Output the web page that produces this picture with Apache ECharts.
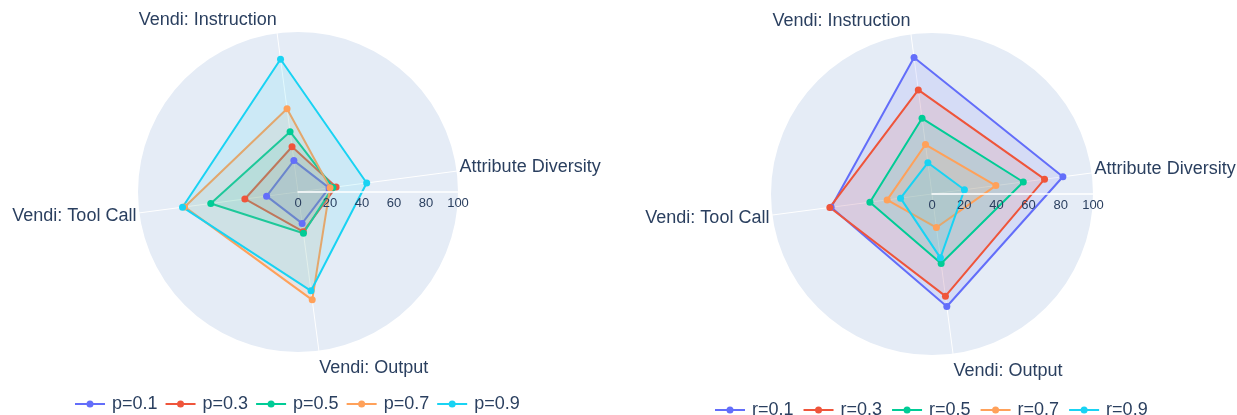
<!DOCTYPE html>
<html>
<head>
<meta charset="utf-8">
<script src="https://cdn.jsdelivr.net/npm/echarts@6/dist/echarts.min.js"></script>
<style>
  html, body { margin: 0; padding: 0; background: #fff; }
  #chart { width: 1237px; height: 415px; }
</style>
</head>
<body>
<div id="chart"></div>
<script>
// axes of both radars, counter-clockwise from the right
const indicatorNames = ['Attribute Diversity', 'Vendi: Instruction', 'Vendi: Tool Call', 'Vendi: Output']
const radialTicks = [0, 20, 40, 60, 80, 100]

// left chart: p sweep
const pNames = ['p=0.1', 'p=0.3', 'p=0.5', 'p=0.7', 'p=0.9']
const pValues = [
  [19.6, 19.8, 19.8, 19.8],
  [24, 28.5, 33.5, 25],
  [22, 38, 55, 26],
  [20.2, 52.5, 71.5, 68],
  [43.3, 83.7, 72.8, 62.3]
]

// right chart: r sweep
const rNames = ['r=0.1', 'r=0.3', 'r=0.5', 'r=0.7', 'r=0.9']
const rValues = [
  [82, 85.5, 63.2, 70.5],
  [70.5, 65.2, 64, 64],
  [57.2, 47.4, 38.9, 43.5],
  [40, 31, 28.1, 21],
  [20.3, 19.6, 19.7, 40]
]

const colors = ['#636EFA', '#EF553B', '#00CC96', '#FFA15A', '#19D3F3']
const fontFamily = '"Liberation Sans", Arial, sans-serif'
const textColor = '#2a3f5f'

const panels = [
  { center: [298, 192], radius: 160 },
  { center: [932, 194], radius: 161 }
]

const chart = echarts.init(document.getElementById('chart'), null, { renderer: 'canvas' })

const polar = []
const angleAxis = []
const radiusAxis = []
const radar = []

// background polars (0,1) and overlay polars for the radial axis line + labels (2,3)
const makePolar = (p, idx, overlay) => {
  polar.push({ center: p.center, radius: p.radius })
  angleAxis.push({
    polarIndex: idx,
    type: 'value',
    min: 0,
    max: 360,
    startAngle: 0,
    show: false
  })
  radiusAxis.push({
    polarIndex: idx,
    type: 'value',
    min: radialTicks[0],
    max: radialTicks[radialTicks.length - 1],
    interval: 20,
    z: overlay ? 10 : 0,
    axisLine: { show: overlay, lineStyle: { color: '#ffffff', width: 1.5 } },
    axisTick: { show: false },
    axisLabel: {
      show: overlay,
      color: textColor,
      fontSize: 13,
      fontFamily,
      margin: -18
    },
    splitLine: { show: !overlay, lineStyle: { color: '#ffffff', width: 1 } },
    splitArea: { show: !overlay, areaStyle: { color: ['#E5ECF6'] } }
  })
}
panels.forEach((p, i) => makePolar(p, i, false))
panels.forEach((p, i) => makePolar(p, i + 2, true))

const nameStyle = { color: textColor, fontSize: 18, fontFamily }

panels.forEach(p => {
  radar.push({
    center: p.center,
    radius: p.radius,
    startAngle: 7.5,
    shape: 'circle',
    splitNumber: 5,
    indicator: indicatorNames.map(name => ({ name, min: 0, max: 100 })),
    nameGap: 3,
    axisName: Object.assign({}, nameStyle, {
      formatter: (name) => {
        if (name === 'Attribute Diversity') return '{right|' + name + '}'
        if (name === 'Vendi: Instruction') return '{up|' + name + '}'
        if (name === 'Vendi: Tool Call') return '{left|' + name + '}'
        return '{down|' + name + '}'
      },
      rich: {
        right: Object.assign({}, nameStyle, { padding: [0, 0, 8, 0] }),
        up: Object.assign({}, nameStyle, { padding: [0, 0, 20, 0] }),
        left: Object.assign({}, nameStyle, { padding: [6, 0, 0, 0] }),
        down: Object.assign({}, nameStyle, { padding: [28, 0, 0, 0] })
      }
    }),
    axisLine: { lineStyle: { color: '#ffffff', width: 1 } },
    axisTick: { show: false },
    axisLabel: { show: false },
    splitLine: { show: false },
    splitArea: { show: false }
  })
})

const makeSeries = (names, values, radarIndex) => names.map((name, i) => ({
  type: 'radar',
  name,
  radarIndex,
  symbol: 'circle',
  symbolSize: 7,
  itemStyle: { color: colors[i] },
  lineStyle: { color: colors[i], width: 2 },
  areaStyle: { color: colors[i], opacity: 0.12 },
  data: [{ value: values[i], name }]
}))

const legendIcon = 'path://M0,2.5L30,2.5L30,4.5L0,4.5Z M18.5,3.5A3.5,3.5,0,1,1,11.5,3.5A3.5,3.5,0,1,1,18.5,3.5Z'
const legendBase = {
  orient: 'horizontal',
  icon: legendIcon,
  itemWidth: 30,
  itemHeight: 7,
  itemGap: 8,
  padding: 0,
  textStyle: { color: textColor, fontSize: 18, fontFamily, padding: [0, 0, 0, 2] }
}

const option = {
  animation: false,
  backgroundColor: '#ffffff',
  color: colors,
  polar,
  angleAxis,
  radiusAxis,
  radar,
  legend: [
    Object.assign({}, legendBase, { data: pNames, left: 75, top: 395 }),
    Object.assign({}, legendBase, { data: rNames, left: 715, top: 401, itemGap: 10 })
  ],
  series: [
    ...makeSeries(pNames, pValues, 0),
    ...makeSeries(rNames, rValues, 1)
  ]
}

chart.setOption(option)
window.addEventListener('resize', () => chart.resize())
</script>
</body>
</html>
